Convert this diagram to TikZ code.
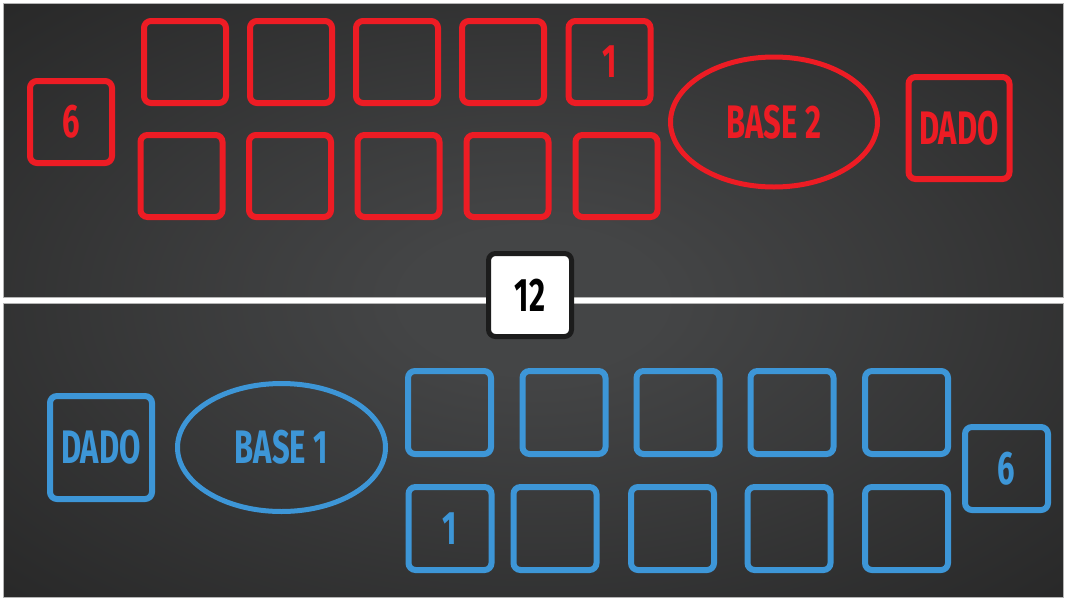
\documentclass[tikz,border=0pt]{standalone}
\usepackage{fontspec}
\usepackage{tikz}
\usetikzlibrary{shapes.geometric}
\newfontfamily\boardfont{Fira Sans}[FakeStretch=0.66]
\definecolor{glowin}{HTML}{444546}
\definecolor{glowout}{HTML}{262626}
\definecolor{pinred}{HTML}{ED1C24}
\definecolor{pinblue}{HTML}{3D96D7}
\definecolor{diceframe}{HTML}{1C1C1C}
\definecolor{edgegray}{HTML}{B4B4B4}
\pgfdeclareradialshading{boardglow}{\pgfpoint{0bp}{0bp}}{color(0bp)=(glowin); color(6bp)=(glowin); color(38bp)=(glowout); color(50bp)=(glowout)}
\tikzset{
  boardtext/.style={font=\boardfont\bfseries\fontsize{47}{47}\selectfont},
  cell/.style={rectangle, rounded corners=7pt, line width=6pt, inner sep=0pt, boardtext},
  redcell/.style={cell, draw=pinred, text=pinred, minimum width=82pt, minimum height=82pt},
  bluecell/.style={cell, draw=pinblue, text=pinblue, minimum width=83pt, minimum height=83pt},
  basering/.style={ellipse, line width=5pt, inner sep=0pt, minimum width=207pt, minimum height=130pt, boardtext},
  dicecell/.style={cell, minimum width=101pt, minimum height=102pt}
}
\begin{document}
\begin{tikzpicture}[x=1pt,y=-1pt]
            \useasboundingbox (0,0) rectangle (1067,600);
            \fill [white] (0,0) rectangle (1067,600);
            \begin{scope}
            \clip (3,3) rectangle (1063,297) (3,303) rectangle (1063,597);
            \shade [shading=boardglow] (3,3) rectangle (1063,597);
            \end{scope}
            \draw [edgegray, line width=1pt] (3,3) rectangle (1063,297);
            \draw [edgegray, line width=1pt] (3,303) rectangle (1063,597);
            \node [redcell] (rsix) at (71,122) {6};
            \node [redcell] (ra1) at (185,62) {};
            \node [redcell] (ra2) at (291,62) {};
            \node [redcell] (ra3) at (397,62) {};
            \node [redcell] (ra4) at (503,62) {};
            \node [redcell] (ra5) at (609.5,62) {1};
            \node [redcell] (rb1) at (181.5,176) {};
            \node [redcell] (rb2) at (290,176) {};
            \node [redcell] (rb3) at (398.5,176) {};
            \node [redcell] (rb4) at (507.5,176) {};
            \node [redcell] (rb5) at (616.5,176) {};
            \node [basering, draw=pinred, text=pinred] (rbase) at (774,122) {BASE 2};
            \node [dicecell, draw=pinred, text=pinred] (rdado) at (959,128) {DADO};
            \node [cell, draw=diceframe, fill=white, text=black, line width=5pt, minimum width=83pt, minimum height=83pt] (twelve) at (530,295) {12};
            \node [dicecell, draw=pinblue, text=pinblue, minimum width=102pt, minimum height=103pt] (bdado) at (101,447.5) {DADO};
            \node [basering, draw=pinblue, text=pinblue, minimum width=208pt, minimum height=128pt] (bbase) at (281.5,447.5) {BASE 1};
            \node [bluecell] (ba1) at (449.5,412.5) {};
            \node [bluecell] (ba2) at (564,412.5) {};
            \node [bluecell] (ba3) at (678,412.5) {};
            \node [bluecell] (ba4) at (792,412.5) {};
            \node [bluecell] (ba5) at (906.5,412.5) {};
            \node [bluecell] (bb1) at (450,528.5) {1};
            \node [bluecell] (bb2) at (555,528.5) {};
            \node [bluecell] (bb3) at (672.5,528.5) {};
            \node [bluecell] (bb4) at (789,528.5) {};
            \node [bluecell] (bb5) at (906.5,528.5) {};
            \node [bluecell] (bsix) at (1006.5,468.5) {6};
\end{tikzpicture}
\end{document}
